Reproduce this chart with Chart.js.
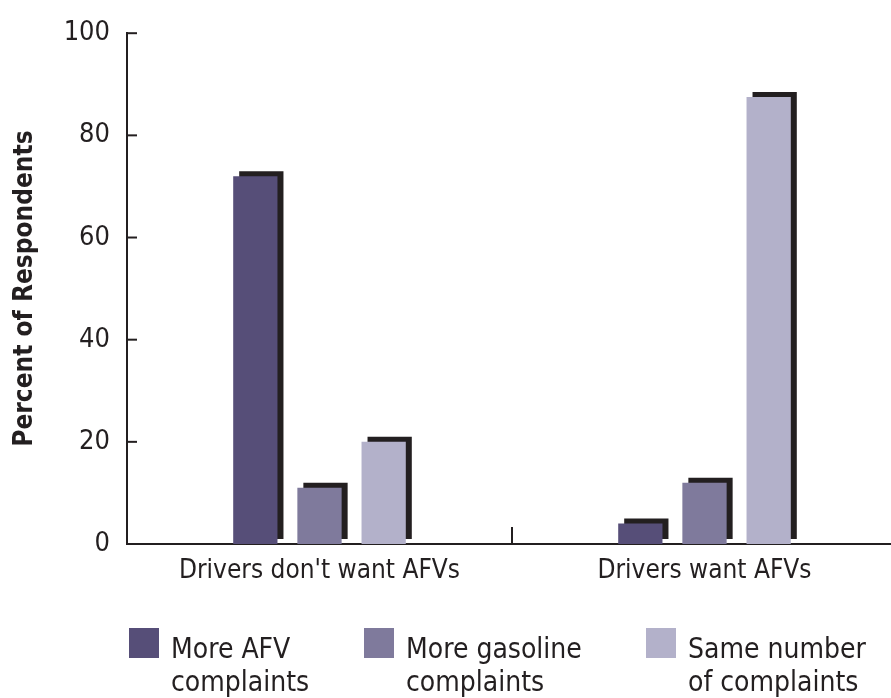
<!DOCTYPE html>
<html>
<head>
<meta charset="utf-8">
<script src="https://cdn.jsdelivr.net/npm/chart.js@4"></script>
<style>
  html, body { margin: 0; padding: 0; background: #fff; overflow: hidden; }
  #wrap { width: 900px; height: 698px; }
</style>
</head>
<body>
<div id="wrap"><canvas id="chart" width="900" height="698"></canvas></div>
<script>
const categories = ["Drivers don't want AFVs", 'Drivers want AFVs'];
const moreAfv = [72, 4];
const moreGasoline = [11, 12];
const sameNumber = [20, 87.5];
const yTicks = [0, 20, 40, 60, 80, 100];
const seriesNames = [['More AFV', 'complaints'], ['More gasoline', 'complaints'], ['Same number', 'of complaints']];
const colors = ['#564e78', '#7f7a9c', '#b3b1ca'];

const FONT = '"DejaVu Sans Condensed", "DejaVu Sans", sans-serif';
const INK = '#231f20';

// black offset "shadow" behind each bar
const barShadow = {
  id: 'barShadow',
  beforeDatasetsDraw(chart) {
    const ctx = chart.ctx;
    ctx.save();
    ctx.shadowColor = INK;
    ctx.shadowBlur = 0;
    ctx.shadowOffsetX = 6;
    ctx.shadowOffsetY = -5;
  },
  afterDatasetsDraw(chart) {
    chart.ctx.restore();
  }
};

// inward ticks + legend with two-line labels
const extras = {
  id: 'extras',
  afterDraw(chart) {
    const ctx = chart.ctx;
    const x = chart.scales.x, y = chart.scales.y;
    ctx.save();
    ctx.strokeStyle = INK;
    ctx.lineWidth = 2;
    yTicks.forEach(v => {
      const py = y.getPixelForValue(v);
      ctx.beginPath();
      ctx.moveTo(x.left, py);
      ctx.lineTo(x.left + 10, py);
      ctx.stroke();
    });
    const mid = (x.getPixelForValue(0) + x.getPixelForValue(1)) / 2;
    ctx.beginPath();
    ctx.moveTo(mid, y.bottom);
    ctx.lineTo(mid, y.bottom - 17);
    ctx.stroke();

    // legend
    const legendX = [129, 364, 646];
    const boxTop = 628;
    ctx.font = '28px ' + FONT;
    ctx.textBaseline = 'alphabetic';
    ctx.textAlign = 'left';
    chart.data.datasets.forEach((ds, i) => {
      ctx.fillStyle = ds.backgroundColor;
      ctx.fillRect(legendX[i], boxTop, 30, 30);
      ctx.fillStyle = INK;
      seriesNames[i].forEach((line, j) => {
        ctx.fillText(line, legendX[i] + 42, 658 + j * 33);
      });
    });
    ctx.restore();
  }
};

new Chart(document.getElementById('chart'), {
  type: 'bar',
  data: {
    labels: categories,
    datasets: [
      { label: seriesNames[0].join(' '), data: moreAfv, backgroundColor: colors[0] },
      { label: seriesNames[1].join(' '), data: moreGasoline, backgroundColor: colors[1] },
      { label: seriesNames[2].join(' '), data: sameNumber, backgroundColor: colors[2] }
    ]
  },
  options: {
    responsive: false,
    animation: false,
    layout: { padding: { top: 30, right: 3, left: 0, bottom: 0 } },
    datasets: {
      bar: { categoryPercentage: 0.5, barPercentage: 0.69 }
    },
    plugins: {
      legend: { display: false },
      tooltip: { enabled: false }
    },
    scales: {
      x: {
        grid: { display: false, drawTicks: false },
        border: { display: true, color: INK, width: 2 },
        ticks: { color: INK, padding: 12, font: { family: FONT, size: 26 } },
        afterFit(scale) { scale.height = 154; }
      },
      y: {
        min: 0,
        max: 100,
        afterBuildTicks(scale) { scale.ticks = yTicks.map(v => ({ value: v })); },
        grid: { display: false, drawTicks: false },
        border: { display: true, color: INK, width: 2 },
        ticks: { color: INK, padding: 17, font: { family: FONT, size: 27 } },
        title: {
          display: true,
          text: 'Percent of Respondents',
          color: INK,
          padding: { top: 10, bottom: 0 },
          font: { family: FONT, size: 26, weight: 'bold' }
        },
        afterFit(scale) { scale.width = 127; }
      }
    }
  },
  plugins: [barShadow, extras]
});
</script>
</body>
</html>
